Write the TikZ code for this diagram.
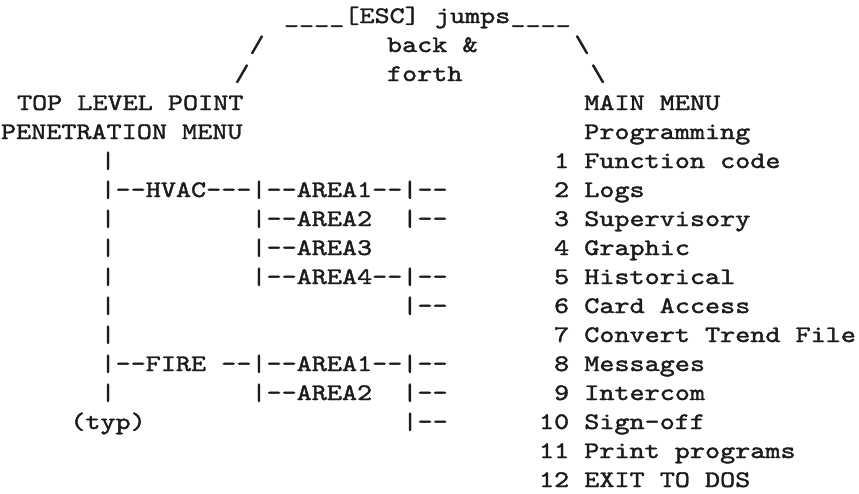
\documentclass[tikz,border=0pt]{standalone}
\usepackage{fontspec}
\newfontfamily\courlike{lmmono10-regular.otf}[FakeBold=1.6, FakeStretch=1.213]
\definecolor{ink}{HTML}{1C1C1C}
\newcommand{\T}[1]{#1}
\tikzset{
  t/.style={anchor=base west, inner sep=0pt, outer sep=0pt,
    font=\courlike\fontsize{23.7}{29}\selectfont, text=ink}
}
\begin{document}
\begin{tikzpicture}[x=1pt,y=1pt]
\useasboundingbox[fill=white] (0,0) rectangle (859,-493);
% top link
\node[t] (esc)   at (284,-23)   {\T{\_\_\_\_[ESC]~jumps\_\_\_\_}};
\node[t] (sl1)   at (249.5,-52) {\T{/}};
\node[t] (back)  at (387,-52)   {\T{back~\&}};
\node[t] (bs1)   at (574.5,-52) {\T{\textbackslash}};
\node[t] (sl2)   at (234.5,-81) {\T{/}};
\node[t] (forth) at (387,-81)   {\T{forth}};
\node[t] (bs2)   at (590.5,-81) {\T{\textbackslash}};
% left tree
\node[t] (top1) at (17,-110) {\T{TOP~LEVEL~POINT}};
\node[t] (top2) at (1,-139)  {\T{PENETRATION~MENU}};
\node[t] (l5)  at (100.5,-168) {\T{|}};
\node[t] (l6)  at (100.5,-197) {\T{|-{}-HVAC-{}-{}-|-{}-AREA1-{}-|-{}-}};
\node[t] (l7)  at (100.5,-226) {\T{|~~~~~~~~~|-{}-AREA2~~|-{}-}};
\node[t] (l8)  at (100.5,-255) {\T{|~~~~~~~~~|-{}-AREA3}};
\node[t] (l9)  at (100.5,-284) {\T{|~~~~~~~~~|-{}-AREA4-{}-|-{}-}};
\node[t] (l10) at (100.5,-313) {\T{|~~~~~~~~~~~~~~~~~~~|-{}-}};
\node[t] (l11) at (100.5,-342) {\T{|}};
\node[t] (l12) at (100.5,-371) {\T{|-{}-FIRE~-{}-|-{}-AREA1-{}-|-{}-}};
\node[t] (l13) at (100.5,-400) {\T{|~~~~~~~~~|-{}-AREA2~~|-{}-}};
\node[t] (typ) at (70.3,-429)  {\T{(typ)}};
\node[t] (l14) at (402.5,-429) {\T{|-{}-}};
% main menu
\node[t] (m3)  at (539,-110) {\T{~~~MAIN~MENU}};
\node[t] (m4)  at (539,-139) {\T{~~~Programming}};
\node[t] (m5)  at (539,-168) {\T{~1~Function~code}};
\node[t] (m6)  at (539,-197) {\T{~2~Logs}};
\node[t] (m7)  at (539,-226) {\T{~3~Supervisory}};
\node[t] (m8)  at (539,-255) {\T{~4~Graphic}};
\node[t] (m9)  at (539,-284) {\T{~5~Historical}};
\node[t] (m10) at (539,-313) {\T{~6~Card~Access}};
\node[t] (m11) at (539,-342) {\T{~7~Convert~Trend~File}};
\node[t] (m12) at (539,-371) {\T{~8~Messages}};
\node[t] (m13) at (539,-400) {\T{~9~Intercom}};
\node[t] (m14) at (539,-429) {\T{10~Sign-off}};
\node[t] (m15) at (539,-458) {\T{11~Print~programs}};
\node[t] (m16) at (539,-487) {\T{12~EXIT~TO~DOS}};
\end{tikzpicture}
\end{document}
